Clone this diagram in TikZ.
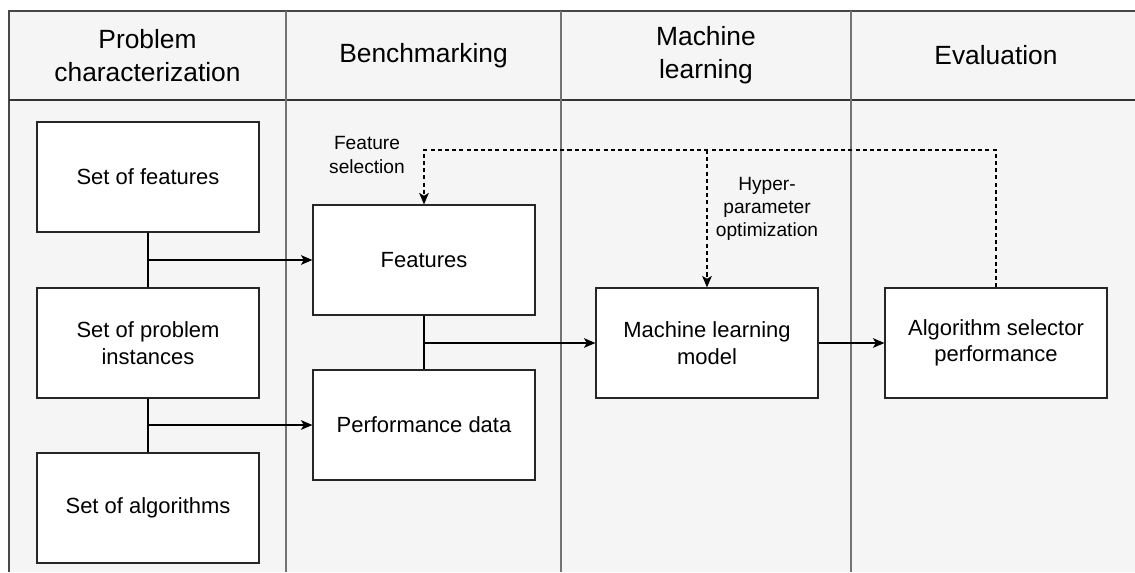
\documentclass[tikz,border=0pt]{standalone}
\usepackage{fontspec}
\setmainfont{Liberation Sans}
\usetikzlibrary{arrows.meta}

\tikzstyle{heading} = [font=\fontsize{15}{18.6}\selectfont, align=center]
\tikzstyle{block} = [draw=black!85, fill=white, line width=0.7pt, minimum width=4.44cm, minimum height=2.2cm, inner sep=0pt, align=center, font=\fontsize{12.5}{15}\selectfont]
\tikzstyle{note} = [font=\fontsize{10.9}{13.2}\selectfont, align=center]
\tikzstyle{lane} = [black!55, line width=0.7pt]

\begin{document}
\begin{tikzpicture}[>={Stealth[length=6.5pt,width=5.5pt,inset=1.6pt]}, x=0.02cm, y=-0.02cm]

    \useasboundingbox (0,0) rectangle (1135,572);

    % pool and lanes
    \fill [black!4] (9,11) rectangle (1135,572);
    \draw [black!72, line width=0.7pt] (1135,11) -- (9,11) -- (9,572);
    \draw [black!80, line width=0.7pt] (9,100) -- (1135,100);
    \draw [lane] (286,11) -- (286,572);
    \draw [lane] (561,11) -- (561,572);
    \draw [lane] (851,11) -- (851,572);

    \node at (147.5,55.5) [heading] (h1) {Problem\\characterization};
    \node at (423.5,55.5) [heading] (h2) {Benchmarking};
    \node at (706,55.5) [heading] (h3) {Machine\\learning};
    \node at (996,55.5) [heading] (h4) {Evaluation};

    % problem characterization
    \node at (148,177) [block] (setfeat) {Set of features};
    \node at (148,343) [block] (setinst) {Set of problem\\instances};
    \node at (148,508) [block] (setalg) {Set of algorithms};

    % benchmarking
    \node at (424,260) [block] (feat) {Features};
    \node at (424,425) [block] (perf) {Performance data};

    % machine learning and evaluation
    \node at (707,343) [block] (model) {Machine learning\\model};
    \node at (996,343) [block] (selector) {Algorithm selector\\performance};

    \node at (367,155) [note] (fsel) {Feature\\selection};
    \node at (767,209) [note] (hpo) {Hyper-\\parameter\\optimization};

    % connectors
    \draw [line width=0.7pt] (setfeat) -- (setinst);
    \draw [line width=0.7pt] (setinst) -- (setalg);
    \draw [line width=0.7pt] (feat) -- (perf);
    \draw [->, line width=0.7pt] (setfeat.south |- feat.west) -- (feat.west);
    \draw [->, line width=0.7pt] (setinst.south |- perf.west) -- (perf.west);
    \draw [->, line width=0.7pt] (feat.south |- model.west) -- (model.west);
    \draw [->, line width=0.7pt] (model) -- (selector);

    % feedback
    \coordinate (loop) at (424,150);
    \draw [->, dash pattern=on 2.3pt off 1.8pt, line width=0.7pt] (selector.north) |- (loop) -- (feat.north);
    \draw [->, dash pattern=on 2.3pt off 1.8pt, line width=0.7pt] (model.north |- loop) -- (model.north);

\end{tikzpicture}
\end{document}
